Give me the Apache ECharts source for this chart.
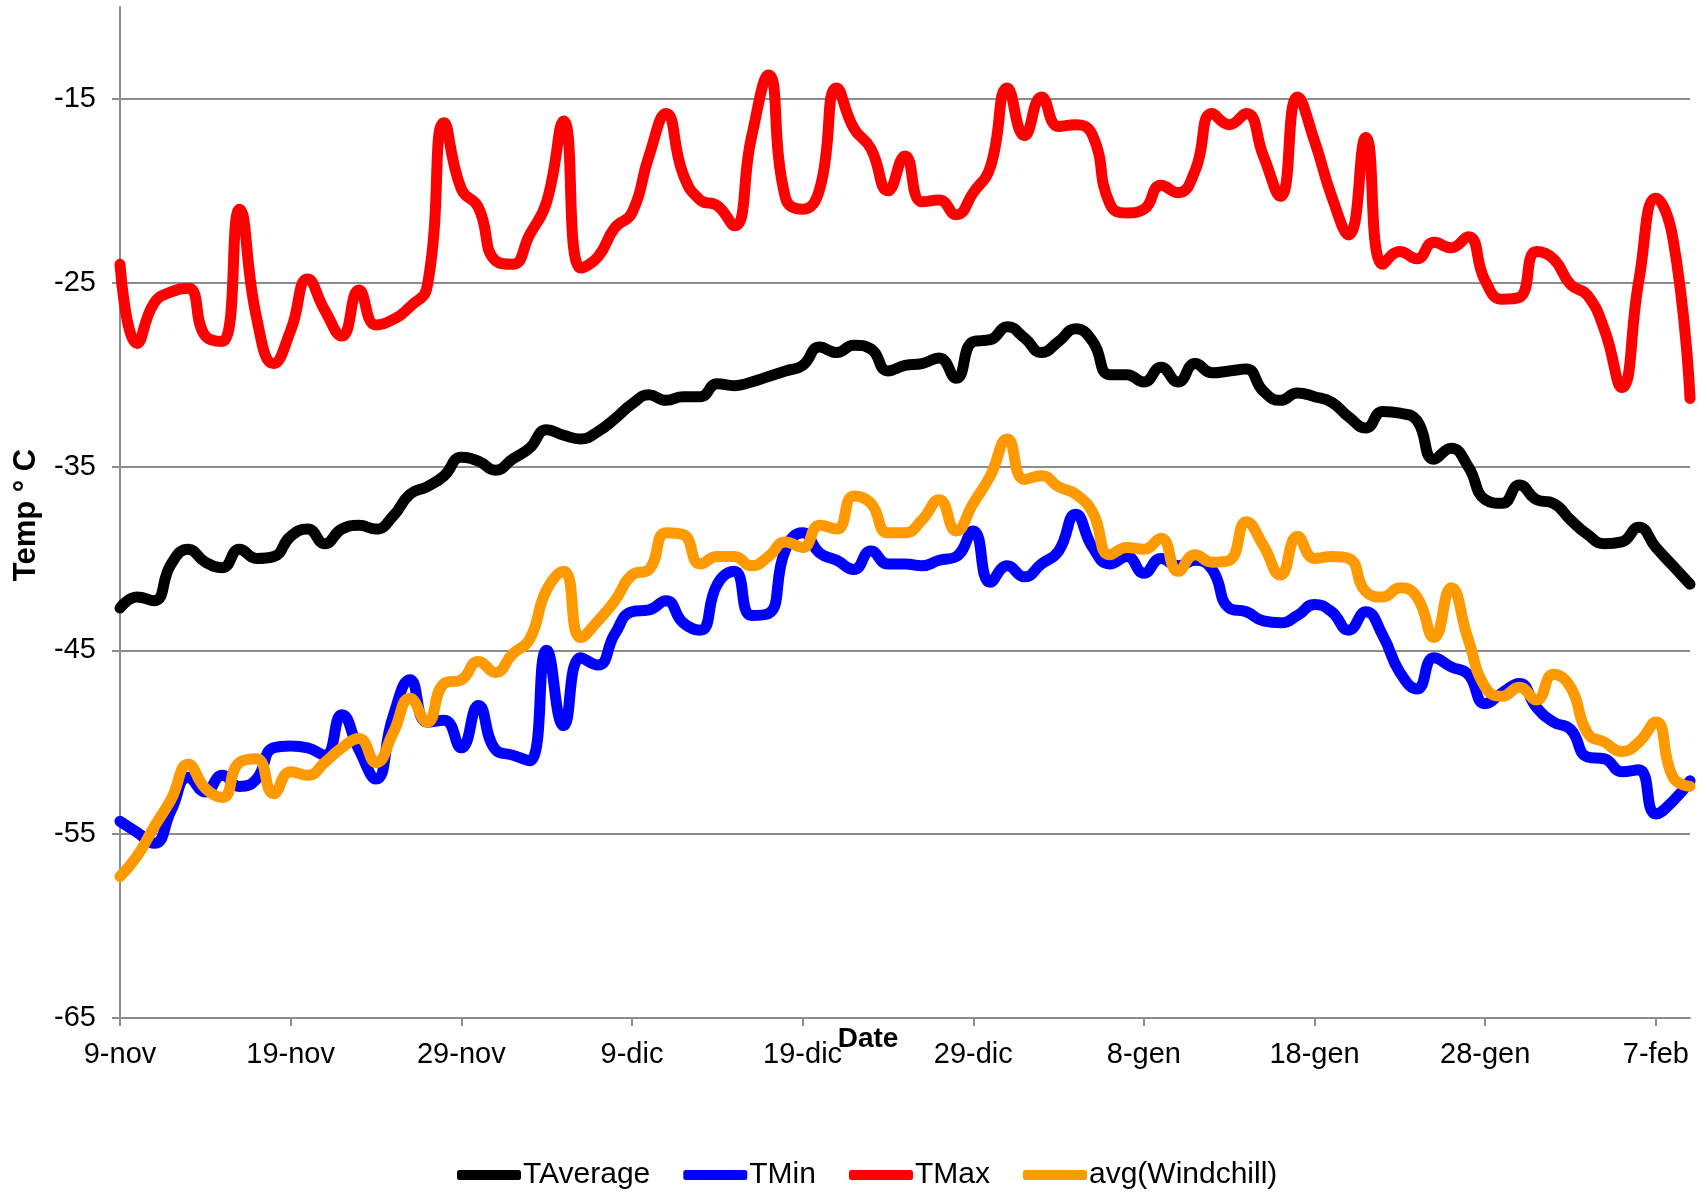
<!DOCTYPE html>
<html><head><meta charset="utf-8">
<script src="https://cdn.jsdelivr.net/npm/echarts@6/dist/echarts.min.js"></script>
<style>html,body{margin:0;padding:0;background:#fff}#c{width:1706px;height:1192px}</style>
</head><body><div id="c"></div><script>
const dates = [
'9-nov','10-nov','11-nov','12-nov','13-nov','14-nov','15-nov','16-nov','17-nov','18-nov','19-nov','20-nov','21-nov','22-nov','23-nov','24-nov','25-nov','26-nov','27-nov','28-nov','29-nov','30-nov',
'1-dic','2-dic','3-dic','4-dic','5-dic','6-dic','7-dic','8-dic','9-dic','10-dic','11-dic','12-dic','13-dic','14-dic','15-dic','16-dic','17-dic','18-dic','19-dic','20-dic','21-dic','22-dic','23-dic','24-dic','25-dic','26-dic','27-dic','28-dic','29-dic','30-dic','31-dic',
'1-gen','2-gen','3-gen','4-gen','5-gen','6-gen','7-gen','8-gen','9-gen','10-gen','11-gen','12-gen','13-gen','14-gen','15-gen','16-gen','17-gen','18-gen','19-gen','20-gen','21-gen','22-gen','23-gen','24-gen','25-gen','26-gen','27-gen','28-gen','29-gen','30-gen','31-gen',
'1-feb','2-feb','3-feb','4-feb','5-feb','6-feb','7-feb','8-feb','9-feb'
];
const yTicks = [-65, -55, -45, -35, -25, -15];
const seriesNames = ['TAverage', 'TMin', 'TMax', 'avg(Windchill)'];

const tAverage = [
-42.7,-42.1,-42.3,-40.3,-39.5,-40.2,-40.5,-39.5,-40.0,-39.9,
-38.8,-38.4,-39.2,-38.4,-38.2,-38.4,-37.7,-36.5,-36.1,-35.5,
-34.5,-34.7,-35.2,-34.6,-34.0,-33.0,-33.3,-33.5,-33.1,-32.4,
-31.6,-31.1,-31.4,-31.2,-31.2,-30.5,-30.6,-30.4,-30.1,-29.8,
-29.5,-28.5,-28.8,-28.4,-28.6,-29.8,-29.5,-29.4,-29.1,-30.2,
-28.2,-28.1,-27.4,-28.0,-28.8,-28.2,-27.5,-28.2,-30.0,-30.0,
-30.4,-29.6,-30.4,-29.4,-29.9,-29.8,-29.7,-30.9,-31.4,-31.0,
-31.2,-31.5,-32.3,-32.9,-32.0,-32.1,-32.5,-34.6,-34.0,-35.0,
-36.8,-37.0,-36.0,-36.8,-37.0,-37.9,-38.7,-39.2,-39.1,-38.3,
-39.4,-40.4,-41.4
];
const tMin = [
-54.3,-54.9,-55.5,-53.7,-51.9,-52.7,-51.8,-52.4,-52.0,-50.3,
-50.2,-50.3,-50.7,-48.5,-50.4,-52.0,-48.6,-46.6,-48.9,-48.8,
-50.3,-48.0,-50.4,-50.7,-51.0,-45.0,-49.1,-45.4,-45.8,-44.1,
-42.9,-42.8,-42.3,-43.5,-43.9,-41.4,-40.7,-43.1,-43.0,-39.5,
-38.6,-39.7,-40.1,-40.6,-39.6,-40.3,-40.3,-40.4,-40.1,-39.9,
-38.5,-41.3,-40.4,-41.0,-40.3,-39.6,-37.6,-39.4,-40.3,-39.9,
-40.8,-40.0,-40.4,-40.1,-40.6,-42.7,-42.9,-43.4,-43.5,-43.1,
-42.5,-42.9,-43.9,-42.9,-44.2,-46.2,-47.1,-45.4,-45.9,-46.3,
-47.9,-47.3,-46.8,-48.1,-48.9,-49.3,-50.8,-50.9,-51.6,-51.5,
-53.9,-53.2,-52.1
];
const tMax = [
-24.0,-28.3,-26.1,-25.5,-25.3,-27.9,-28.2,-21.0,-26.9,-29.4,
-27.6,-24.8,-26.5,-27.9,-25.4,-27.3,-27.0,-26.3,-25.2,-16.3,
-19.9,-20.9,-23.8,-24.0,-22.4,-20.6,-16.2,-24.2,-23.6,-22.0,
-21.2,-18.1,-15.8,-19.1,-20.5,-20.8,-21.9,-17.1,-13.7,-20.4,
-21.0,-19.9,-14.4,-16.6,-17.7,-20.0,-18.1,-20.6,-20.5,-21.3,
-20.1,-18.7,-14.4,-17.0,-14.9,-16.5,-16.4,-17.0,-20.7,-21.2,
-21.0,-19.7,-20.1,-18.9,-15.8,-16.4,-15.8,-18.1,-20.3,-14.9,
-17.3,-20.3,-22.4,-17.1,-24.0,-23.3,-23.7,-22.8,-23.1,-22.5,
-24.9,-25.9,-25.8,-23.3,-23.7,-25.1,-25.7,-27.6,-30.7,-24.9,
-20.4,-22.6,-31.3
];
const windchill = [
-57.3,-56.2,-54.6,-53.1,-51.2,-52.5,-53.0,-51.1,-50.9,-52.8,
-51.6,-51.8,-51.1,-50.3,-49.8,-51.1,-49.5,-47.6,-48.9,-46.8,
-46.6,-45.6,-46.2,-45.2,-44.4,-41.7,-40.7,-44.3,-43.4,-42.3,
-40.9,-40.6,-38.6,-38.7,-40.3,-39.9,-39.9,-40.4,-39.9,-39.1,
-39.4,-38.2,-38.4,-36.6,-37.0,-38.6,-38.6,-37.9,-36.8,-38.5,
-37.0,-35.5,-33.5,-35.7,-35.5,-36.1,-36.5,-37.5,-39.8,-39.4,
-39.5,-38.9,-40.7,-39.8,-40.2,-40.1,-38.0,-39.3,-40.9,-38.8,
-40.0,-39.9,-40.0,-41.8,-42.1,-41.6,-42.1,-44.3,-41.6,-44.4,
-47.0,-47.5,-47.0,-47.7,-46.3,-47.0,-49.5,-50.0,-50.5,-50.0,
-48.9,-51.9,-52.4
];
const colors = ['#000000', '#0000FF', '#FF0000', '#FF9900'];
const seriesData = [tAverage, tMin, tMax, windchill];

const FONT = '"Liberation Sans", Arial, Helvetica, sans-serif';
const GRAY = '#8c8c8c';

const chart = echarts.init(document.getElementById('c'), null, {renderer: 'canvas'});
chart.setOption({
  animation: false,
  backgroundColor: '#ffffff',
  color: colors,
  grid: {left: 120, right: 16, top: 7, bottom: 174, containLabel: false},
  xAxis: {
    type: 'category',
    data: dates,
    boundaryGap: false,
    axisLine: {show: true, lineStyle: {color: GRAY, width: 2}},
    axisTick: {show: true, interval: 9, length: 8, lineStyle: {color: GRAY, width: 2}},
    axisLabel: {interval: 9, margin: 22, fontSize: 29, color: '#000', fontFamily: FONT},
    splitLine: {show: false}
  },
  yAxis: {
    type: 'value',
    min: -65, max: -10, interval: 10,
    axisLine: {show: true, lineStyle: {color: GRAY, width: 2}},
    axisTick: {show: true, length: 8, lineStyle: {color: GRAY, width: 2}},
    axisLabel: {margin: 24, fontSize: 29, color: '#000', fontFamily: FONT, showMaxLabel: false},
    splitLine: {show: true, showMaxLine: false, showMinLine: false, lineStyle: {color: GRAY, width: 2}}
  },
  legend: {
    data: seriesNames,
    left: 452, top: 1155,
    itemWidth: 64, itemHeight: 10, itemGap: 33,
    icon: 'roundRect',
    textStyle: {fontSize: 30, color: '#000', fontFamily: FONT, padding: [0, 0, 0, -3]}
  },
  graphic: [
    {type: 'text', x: 868, y: 1039, style: {text: 'Date', font: 'bold 28px ' + FONT, fill: '#000', textAlign: 'center', textVerticalAlign: 'middle'}},
    {type: 'text', x: 26, y: 515, rotation: Math.PI / 2, style: {text: 'Temp ° C', font: 'bold 31px ' + FONT, fill: '#000', textAlign: 'center', textVerticalAlign: 'middle'}}
  ],
  series: seriesNames.map((name, k) => ({
    name: name,
    type: 'line',
    data: seriesData[k],
    smooth: 0.5,
    showSymbol: false,
    symbol: 'none',
    lineStyle: {width: 11, color: colors[k], cap: 'round', join: 'round'},
    itemStyle: {color: colors[k]},
    z: 2 + k
  }))
});
</script></body></html>
